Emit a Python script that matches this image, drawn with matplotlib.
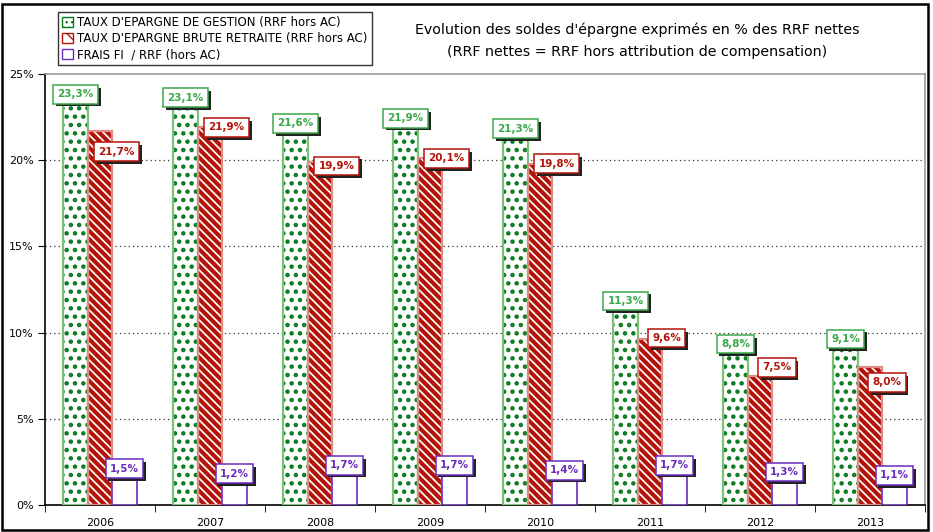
import numpy as np
import matplotlib
matplotlib.use("Agg")
import matplotlib.pyplot as plt
import matplotlib.patheffects as pe
from matplotlib.patches import Patch, Rectangle

annees = ["2006", "2007", "2008", "2009", "2010", "2011", "2012", "2013"]
epargne_gestion = [23.3, 23.1, 21.6, 21.9, 21.3, 11.3, 8.8, 9.1]
epargne_brute = [21.7, 21.9, 19.9, 20.1, 19.8, 9.6, 7.5, 8.0]
frais_fi = [1.5, 1.2, 1.7, 1.7, 1.4, 1.7, 1.3, 1.1]

noms_series = ["TAUX D'EPARGNE DE GESTION (RRF hors AC)",
               "TAUX D'EPARGNE BRUTE RETRAITE (RRF hors AC)",
               "FRAIS FI  / RRF (hors AC)"]

VERT_FONCE = "#0a7a1e"
VERT_CLAIR = "#7cc07c"
VERT_TXT = "#3aa84a"
ROUGE = "#b3140a"
ROUGE_CLAIR = "#e08a84"
VIOLET = "#6a2cc0"

plt.rcParams["font.family"] = "DejaVu Sans"

fig = plt.figure(figsize=(9.33, 5.32), dpi=100)
ax = fig.add_axes([45 / 933, 27 / 532, 880 / 933, 431 / 532])

x = np.arange(len(annees))
w = 0.223

# barres vertes pointillées
with plt.rc_context({"hatch.linewidth": 2.0}):
    ax.bar(x - w, epargne_gestion, w, color="white", edgecolor=VERT_FONCE,
           hatch="..", linewidth=0, zorder=2)
ax.bar(x - w, epargne_gestion, w, fill=False, edgecolor=VERT_CLAIR,
       linewidth=1.6, zorder=3)

# barres rouges hachurées
with plt.rc_context({"hatch.linewidth": 3.0}):
    ax.bar(x, epargne_brute, w, color="white", edgecolor=ROUGE,
           hatch="\\\\\\\\", linewidth=0, zorder=2)
ax.bar(x, epargne_brute, w, fill=False, edgecolor=ROUGE_CLAIR,
       linewidth=1.6, zorder=3)

# barres violettes vides
ax.bar(x + w, frais_fi, w, color="white", edgecolor=VIOLET,
       linewidth=1.2, zorder=3)

ombre = [pe.SimplePatchShadow(offset=(2, -2), shadow_rgbFace="#222222", alpha=1.0),
         pe.Normal()]


def etiquette(xv, yv, texte, couleur, dx, dy, va):
    t = ax.annotate(texte, (xv, yv), xytext=(dx, dy), textcoords="offset points",
                    color=couleur, fontsize=7.5, fontweight="bold", ha="center", va=va,
                    bbox=dict(boxstyle="square,pad=0.42", fc="white", ec=couleur, lw=1.1),
                    zorder=6)
    t.get_bbox_patch().set_path_effects(ombre)


def pct(v):
    return f"{v:.1f}%".replace(".", ",")


# décalages verticaux des étiquettes rouges (points)
dy_rouge = [-15, 0, -3, 0, 0, 1, 6, -11]

for i in range(len(annees)):
    etiquette(x[i] - w, epargne_gestion[i], pct(epargne_gestion[i]), VERT_TXT, 0, 3, "bottom")
    etiquette(x[i], epargne_brute[i], pct(epargne_brute[i]), ROUGE, 12, dy_rouge[i], "center")
    etiquette(x[i] + w, frais_fi[i], pct(frais_fi[i]), VIOLET, 0, 4, "bottom")

ax.set_xlim(-0.5, len(annees) - 0.5)
ax.set_ylim(0, 25)
ax.set_yticks(np.arange(0, 26, 5))
ax.set_yticklabels([f"{v}%" for v in range(0, 26, 5)], fontsize=8)
ax.set_xticks(x)
ax.set_xticklabels(annees, fontsize=8)
ax.set_xticks(np.arange(-0.5, len(annees)), minor=True)
ax.tick_params(axis="x", which="major", length=0, pad=9)
ax.tick_params(axis="x", which="minor", length=5, direction="out")
ax.tick_params(axis="y", length=5, direction="out", pad=3)

for v in [5, 10, 15, 20]:
    ax.axhline(v, color="#333333", lw=0.9, ls=(0, (1, 2.5)), zorder=1)

ax.spines["top"].set_color("#999999")
ax.spines["top"].set_linestyle((0, (1, 1)))
ax.spines["top"].set_linewidth(1.2)
ax.spines["right"].set_color("#999999")
ax.spines["right"].set_linewidth(1.2)
ax.spines["left"].set_linewidth(1.2)
ax.spines["bottom"].set_linewidth(1.2)

# légende
poignees = [
    Patch(facecolor="white", edgecolor=VERT_FONCE, hatch="...", label=noms_series[0]),
    Patch(facecolor="white", edgecolor=ROUGE, hatch="\\\\", label=noms_series[1]),
    Patch(facecolor="white", edgecolor=VIOLET, label=noms_series[2]),
]
leg = fig.legend(handles=poignees, loc="upper left", bbox_to_anchor=(58 / 933, 1 - 12 / 532),
                 fontsize=8.5, frameon=True, fancybox=False, handlelength=0.9,
                 handleheight=0.9, handletextpad=0.4, labelspacing=0.25,
                 borderpad=0.35, borderaxespad=0)
leg.get_frame().set_edgecolor("black")
leg.get_frame().set_linewidth(1.0)

fig.text(637 / 933, 1 - 30 / 532, "Evolution des soldes d'épargne exprimés en % des RRF nettes",
         ha="center", va="center", fontsize=10.3)
fig.text(637 / 933, 1 - 52 / 532, "(RRF nettes = RRF hors attribution de compensation)",
         ha="center", va="center", fontsize=10.3)

# cadre extérieur
fig.patches.append(Rectangle((2 / 933, 2 / 532), 926 / 933, 526 / 532, transform=fig.transFigure,
                             fill=False, edgecolor="black", linewidth=1.8))

fig.savefig("out.png", dpi=100)
